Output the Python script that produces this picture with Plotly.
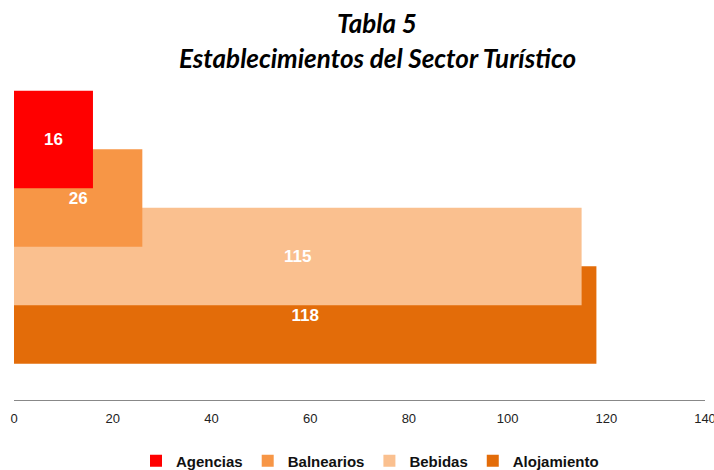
import plotly.graph_objects as go

categories = ["Agencias", "Balnearios", "Bebidas", "Alojamiento"]
values = [16, 26, 115, 118]
colors = ["#FF0000", "#F79646", "#FAC08F", "#E36C09"]
x_ticks = [0, 20, 40, 60, 80, 100, 120, 140]

W, H = 714, 470
L, R, T, B = 14, 714 - 705, 80, 470 - 400
plot_h = 400 - 80

fig = go.Figure()
# draw bottom bar first so upper bars overlap it
for i in reversed(range(len(categories))):
    fig.add_trace(go.Bar(
        y=[categories[i]], x=[values[i]], orientation="h",
        name=categories[i], width=1.667,
        marker=dict(color=colors[i], line=dict(width=0)),
        text=[values[i]], texttemplate="<b>%{x}</b>",
        textposition="inside", insidetextanchor="middle",
        textfont=dict(color="white", size=17, family="Liberation Sans Narrow, Arial Narrow, Liberation Sans"),
        legendrank=i + 1,
    ))

title_lines = ["<b><i>Tabla 5</i></b>", "<b><i>Establecimientos del Sector Turístico</i></b>"]
title_rows = [23, 58]
annotations = []
for txt, py in zip(title_lines, title_rows):
    annotations.append(dict(
        text=txt, x=(377 - 14) / 691, xref="paper", y=(400 - py) / plot_h, yref="paper",
        xanchor="center", yanchor="middle", showarrow=False,
        font=dict(family="Lato", size=26, color="black")))

fig.update_layout(
    width=W, height=H,
    barmode="overlay",
    plot_bgcolor="white", paper_bgcolor="white",
    margin=dict(l=L, r=R, t=T, b=B, autoexpand=False),
    showlegend=True,
    legend=dict(orientation="h", x=(370 - 14) / 691, xanchor="center", xref="paper",
                y=-(461 - 400) / plot_h, yanchor="middle",
                font=dict(family="Liberation Sans, Arial", size=15, color="#111", weight="bold"),
                itemwidth=30, traceorder="normal"),
    annotations=annotations,
)
fig.update_xaxes(range=[0, 140], tickvals=x_ticks, showgrid=False, zeroline=False,
                 showline=True, linecolor="#888888", linewidth=1, automargin=False,
                 ticks="", ticklabelstandoff=6, ticklabeloverflow="allow",
                 tickfont=dict(family="Liberation Sans Narrow, Arial Narrow, Liberation Sans", size=13, color="#222222"))
fig.update_yaxes(categoryorder="array", categoryarray=categories, automargin=False,
                 range=[4.453, -1.017], visible=False, showgrid=False)

fig.write_html("out.html", config={"displayModeBar": False},
               post_script="document.body.style.margin='0px';document.body.style.overflow='hidden';")
